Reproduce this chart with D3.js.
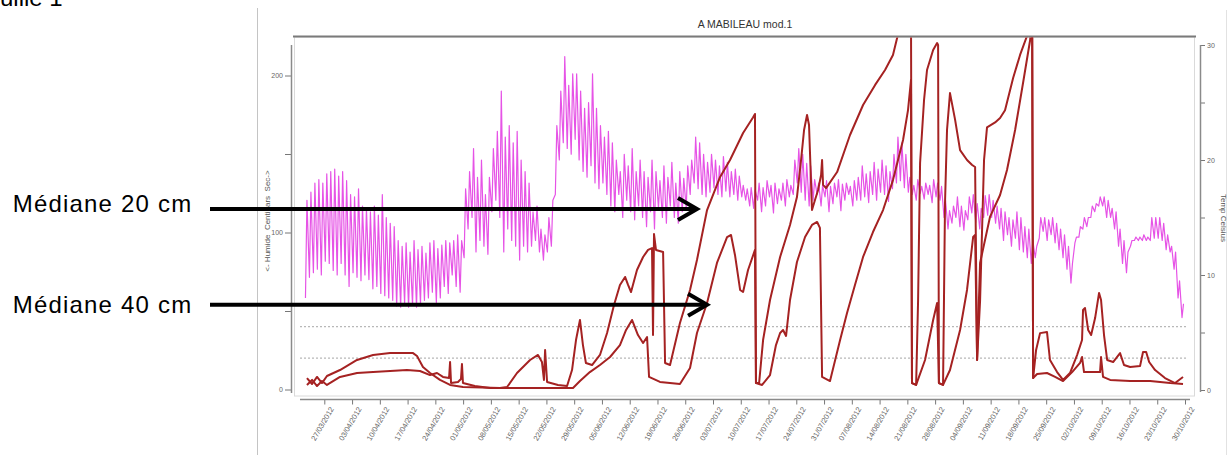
<!DOCTYPE html>
<html><head><meta charset="utf-8">
<script src="https://cdn.jsdelivr.net/npm/d3@7"></script>
<style>
body{margin:0;background:#fff}
svg{display:block}
text{font-family:"Liberation Sans",Arial,sans-serif}
</style>
</head><body>
<svg id="c" width="1232" height="455"></svg>
<script>
// ---------- DATA ----------
const chartTitle = "A MABILEAU mod.1";
const sheetLabel = "Feuille 1";
const leftAxisTitle = "<- Humide  Centibars  Sec->";
const rightAxisTitle = "Temp Celsius";
const xTickLabels = ["27/03/2012","03/04/2012","10/04/2012","17/04/2012","24/04/2012","01/05/2012","08/05/2012","15/05/2012","22/05/2012","29/05/2012","05/06/2012","12/06/2012","19/06/2012","26/06/2012","03/07/2012","10/07/2012","17/07/2012","24/07/2012","31/07/2012","07/08/2012","14/08/2012","21/08/2012","28/08/2012","04/09/2012","11/09/2012","18/09/2012","25/09/2012","02/10/2012","09/10/2012","16/10/2012","23/10/2012","30/10/2012"];
const leftTicks = [0,50,100,150,200];
const leftTickLabels = [0,100,200];
const rightTicks = [0,5,10,15,20,25,30];
const rightTickLabels = [0,10,20,30];
const refLevels = [20,40];               // dotted reference lines (centibars)
const annotationLabels = ["Médiane 20 cm","Médiane 40 cm"];
const annotationTargets = [["2012-06-28T23",115],["2012-07-01T12",54]];

// daily temperature (°C), first day = 22/03/2012
const tempStart = "2012-03-22T00";
const tMax = [
16.5,17.2,18.0,18.3,18.0,18.8,19.0,19.2,18.6,19.0,18.2,17.0,16.8,17.5,16.0,15.8,15.5,16.0,15.2,17.0,
15.0,14.5,14.2,13.0,12.5,12.8,12.0,13.0,12.2,12.5,11.9,12.8,13.0,12.3,12.6,13.0,12.8,13.0,13.5,13.0,
17.5,19.0,21.0,18.5,20.0,17.0,18.5,
21.0,22.5,26.0,22.0,23.0,21.5,22.5,20.0,19.0,18.0,
15.5,16.0,14.0,13.5,15.0,16.5,
23.0,26.0,29.0,26.5,27.5,27.5,26.0,24.5,25.0,27.5,24.5,23.0,22.0,22.5,
21.5,20.0,19.0,20.5,19.5,21.0,19.0,20.0,
19.0,18.5,20.0,19.0,18.2,19.5,18.5,19.8,18.0,19.0,18.4,19.5,
20.0,22.0,21.5,20.5,19.8,20.5,20.0,19.5,20.3,19.8,19.0,19.2,18.6,
17.8,17.5,17.6,17.4,18.0,17.6,18.2,17.8,18.0,17.5,18.0,18.3,17.8,
20.0,21.0,20.5,19.7,19.5,
18.3,18.0,17.8,18.2,17.7,18.0,18.3,17.9,18.0,17.7,18.2,18.5,
19.5,18.8,19.0,19.8,19.2,20.0,19.5,19.0,20.5,22.0,21.5,20.5,
18.5,17.8,18.3,17.7,18.0,17.8,18.3,18.0,17.7,
16.5,15.6,16.0,16.8,16.0,15.6,16.8,17.0,16.2,15.8,16.9,17.0,16.5,16.0,
15.8,15.5,15.0,14.8,15.5,15.0,14.2,14.0,13.0,12.5,
15.0,15.0,14.8,15.0,14.5,14.0,13.5,12.5,11.0,
13.3,14.2,15.0,15.0,16.0,16.2,16.8,16.8,16.5,15.8,
15.5,14.0,13.0,12.0,13.0,
13.3,13.3,13.5,13.3,15.0,15.0,15.0,14.5,
13.5,12.5,12.0,9.5,7.5];
const tMin = [
8.0,9.8,10.2,10.5,10.0,11.2,11.0,10.4,10.0,11.0,10.0,9.0,10.2,9.8,9.5,10.0,9.6,8.8,9.0,8.4,
8.2,8.0,7.8,7.3,7.2,7.5,7.2,7.4,7.2,7.5,7.8,8.0,8.5,7.6,8.0,9.0,8.4,10.0,9.0,8.5,
11.5,14.0,15.0,12.0,13.0,12.5,11.8,
15.5,16.5,15.0,12.0,14.0,13.0,12.5,11.3,12.5,12.0,
12.5,13.0,12.0,11.3,12.0,12.5,
17.0,20.0,21.5,21.0,20.5,21.8,20.0,19.0,18.5,19.5,18.0,17.5,18.0,17.0,
16.0,15.5,17.0,15.0,16.5,15.5,14.8,16.0,
15.0,14.2,15.5,14.0,15.8,15.0,14.5,16.0,15.0,14.5,15.5,15.8,
17.0,18.0,17.5,17.0,16.8,17.2,17.6,17.0,16.8,17.3,16.8,17.0,16.5,
16.8,16.5,16.0,15.8,16.5,15.5,16.0,16.8,15.4,16.2,16.5,16.0,16.8,
17.0,18.0,17.2,16.5,16.0,
16.5,17.0,16.0,16.8,15.5,16.2,16.8,15.6,16.5,17.0,16.0,16.5,
16.5,16.8,16.3,17.0,16.5,17.2,17.0,16.4,17.5,18.0,18.2,17.6,
17.2,17.0,16.5,17.1,16.6,17.0,16.3,16.8,16.5,
15.0,14.0,14.5,15.0,14.2,13.9,14.8,15.4,14.6,14.0,15.0,15.2,15.0,14.5,
14.0,13.0,13.5,12.5,13.2,12.2,12.0,11.5,11.0,11.5,
13.2,13.8,13.0,13.5,12.8,12.2,11.5,10.5,9.3,
12.8,13.3,14.0,14.2,15.0,15.5,16.0,16.0,15.0,15.0,
14.0,12.5,11.0,10.2,12.5,
13.0,13.0,13.0,13.0,13.0,13.2,13.2,13.0,
12.2,12.0,10.5,8.0,6.3];

// tensiometer 20 cm (centibars)
const s20 = [
["2012-03-22T15",7.3],["2012-03-23T22",3.5],["2012-03-25T04",8.0],["2012-03-26T10",4.1],["2012-03-27T16",8.6],["2012-03-30T23",12.4],["2012-04-04T06",18.8],["2012-04-08T07",22.0],["2012-04-12T14",23.2],["2012-04-18T09",23.2],["2012-04-19T09",21.3],["2012-04-20T21",14.3],["2012-04-22T16",10.5],["2012-04-25T04",6.1],["2012-04-27T17",2.9],["2012-04-30T23",1.6],["2012-05-10T07",1.0],["2012-05-12T02",1.6],["2012-05-14T14",10.5],["2012-05-17T21",18.8],["2012-05-19T21",22.0],["2012-05-20T21",17.5],["2012-05-21T09",6.1],["2012-05-21T16",25.2],["2012-05-22T04",4.8],["2012-05-24T22",2.9],["2012-05-27T05",2.2],["2012-05-28T11",12.4],["2012-05-29T11",31.5],["2012-05-30T11",44.3],["2012-05-31T05",28.3],["2012-05-31T23",16.9],["2012-06-02T12",15.6],["2012-06-04T12",22.0],["2012-06-06T07",36.0],["2012-06-08T01",53.8],["2012-06-09T13",66.6],["2012-06-10T20",71.7],["2012-06-11T14",66.6],["2012-06-12T08",62.1],["2012-06-13T20",76.1],["2012-06-15T09",84.4],["2012-06-16T15",88.9],["2012-06-17T15",90.1],["2012-06-17T21",34.7],["2012-06-18T03",99.0],["2012-06-18T15",88.9],["2012-06-20T10",87.6],["2012-06-20T22",16.9],["2012-06-22T04",15.6],["2012-06-24T16",42.4],["2012-06-27T05",63.4],["2012-06-28T23",82.5],["2012-07-01T12",114.3],["2012-07-04T19",135.4],["2012-07-07T07",146.2],["2012-07-10T14",163.4],["2012-07-13T02",173.2],["2012-07-13T14",175.5],["2012-07-13T20",4.1],["2012-07-14T15",4.1],["2012-07-15T15",31.5],["2012-07-17T09",57.0],["2012-07-19T22",84.4],["2012-07-22T10",104.8],["2012-07-24T04",122.6],["2012-07-25T05",146.2],["2012-07-25T23",165.3],["2012-07-26T17",174.8],["2012-07-27T05",168.5],["2012-07-27T23",114.3],["2012-07-28T17",120.7],["2012-07-29T12",127.1],["2012-07-30T06",136.6],["2012-07-30T12",146.2],["2012-07-30T18",130.3],["2012-07-31T12",128.3],["2012-08-03T07",138.5],["2012-08-06T13",162.1],["2012-08-09T20",181.2],["2012-08-12T21",194.0],["2012-08-15T09",203.5],["2012-08-17T09",213.1],["2012-08-18T10",223.9],["2012-08-19T04",235.7],["2012-08-21T22",240.0],["2012-08-22T04",4.1],["2012-08-23T05",2.9],["2012-08-23T17",57.0],["2012-08-24T05",144.3],["2012-08-25T05",184.4],["2012-08-25T23",203.5],["2012-08-27T12",216.2],["2012-08-28T12",220.7],["2012-08-28T18",219.4],["2012-08-28T23",4.1],["2012-08-30T00",2.9],["2012-08-30T12",119.4],["2012-08-31T00",165.3],["2012-08-31T18",188.8],["2012-09-02T01",171.7],["2012-09-03T07",152.5],["2012-09-05T01",146.2],["2012-09-06T08",143.0],["2012-09-07T02",141.7],["2012-09-07T14",18.8],["2012-09-08T08",56.4],["2012-09-09T08",146.2],["2012-09-10T02",167.0],["2012-09-12T03",170.1],["2012-09-13T09",172.9],["2012-09-14T15",177.9],["2012-09-16T16",198.4],["2012-09-18T10",213.1],["2012-09-20T04",225.2],["2012-09-20T23",238.5],["2012-09-21T11",245.0],["2012-09-21T17",7.3],["2012-09-22T11",25.2],["2012-09-23T11",35.9],["2012-09-25T05",36.6],["2012-09-25T23",18.8],["2012-09-27T18",11.1],["2012-09-29T06",6.1],["2012-10-01T00",10.5],["2012-10-02T19",21.9],["2012-10-04T01",31.5],["2012-10-04T07",50.6],["2012-10-04T19",51.9],["2012-10-05T14",37.9],["2012-10-06T08",34.7],["2012-10-07T08",45.5],["2012-10-08T08",61.5],["2012-10-08T20",57.0],["2012-10-09T14",34.7],["2012-10-10T09",18.8],["2012-10-11T21",17.5],["2012-10-13T15",23.2],["2012-10-14T15",15.6],["2012-10-16T04",14.3],["2012-10-18T16",14.9],["2012-10-19T10",23.9],["2012-10-20T05",23.9],["2012-10-20T23",17.5],["2012-10-22T11",12.4],["2012-10-24T23",7.3],["2012-10-27T12",4.1],["2012-10-29T12",8.0]];

// tensiometer 40 cm (centibars)
const s40 = [
["2012-03-22T15",2.9],["2012-03-23T22",6.1],["2012-03-25T04",2.2],["2012-03-26T10",5.4],["2012-03-27T16",2.9],["2012-03-30T23",8.0],["2012-04-04T06",10.5],["2012-04-08T07",11.1],["2012-04-12T14",11.8],["2012-04-16T20",12.4],["2012-04-20T03",11.8],["2012-04-22T16",9.2],["2012-04-24T10",10.5],["2012-04-25T22",8.0],["2012-04-27T11",7.3],["2012-04-27T17",17.5],["2012-04-27T23",4.1],["2012-04-29T17",4.8],["2012-04-30T11",6.7],["2012-04-30T17",16.2],["2012-04-30T23",4.1],["2012-05-03T23",2.2],["2012-05-07T19",1.0],["2012-05-28T17",1.0],["2012-05-30T11",5.4],["2012-06-01T23",11.1],["2012-06-04T12",15.6],["2012-06-07T01",20.7],["2012-06-09T13",28.3],["2012-06-11T02",37.9],["2012-06-12T14",44.3],["2012-06-14T02",34.7],["2012-06-15T09",29.6],["2012-06-16T09",33.4],["2012-06-16T21",8.0],["2012-06-19T15",4.8],["2012-06-24T16",3.5],["2012-06-27T05",13.7],["2012-06-28T23",36.0],["2012-07-01T12",55.1],["2012-07-04T00",80.6],["2012-07-06T13",97.1],["2012-07-07T13",98.4],["2012-07-08T13",85.7],["2012-07-09T20",63.4],["2012-07-10T14",62.1],["2012-07-11T20",76.1],["2012-07-13T14",88.9],["2012-07-13T20",4.1],["2012-07-15T09",2.9],["2012-07-17T09",9.2],["2012-07-18T21",28.3],["2012-07-19T22",36.0],["2012-07-20T16",37.9],["2012-07-21T10",34.1],["2012-07-22T10",57.0],["2012-07-24T04",81.2],["2012-07-26T05",97.1],["2012-07-27T23",104.8],["2012-07-29T06",106.7],["2012-07-29T23",102.9],["2012-07-30T12",8.0],["2012-08-01T12",5.4],["2012-08-04T01",31.5],["2012-08-05T19",48.7],["2012-08-07T19",66.6],["2012-08-09T20",84.4],["2012-08-12T08",100.3],["2012-08-14T21",114.3],["2012-08-17T09",133.4],["2012-08-19T22",158.9],["2012-08-21T04",178.0],["2012-08-21T22",197.1],["2012-08-22T04",4.1],["2012-08-23T05",2.9],["2012-08-25T11",18.8],["2012-08-27T12",44.3],["2012-08-28T12",55.1],["2012-08-28T23",4.1],["2012-08-30T00",2.9],["2012-08-31T18",12.4],["2012-09-03T07",37.9],["2012-09-05T01",63.4],["2012-09-06T14",97.1],["2012-09-07T02",98.4],["2012-09-07T14",18.8],["2012-09-08T08",80.6],["2012-09-10T20",109.9],["2012-09-13T09",123.9],["2012-09-15T03",139.8],["2012-09-17T04",165.3],["2012-09-19T04",195.2],["2012-09-20T23",222.6],["2012-09-21T11",241.7],["2012-09-21T17",7.3],["2012-09-22T17",9.9],["2012-09-25T05",10.5],["2012-09-27T06",8.0],["2012-09-29T06",5.4],["2012-10-01T13",11.1],["2012-10-03T13",16.9],["2012-10-04T01",20.7],["2012-10-04T13",11.1],["2012-10-08T14",11.1],["2012-10-08T20",20.7],["2012-10-09T08",8.0],["2012-10-11T03",6.1],["2012-10-16T04",5.4],["2012-10-21T05",5.4],["2012-10-26T06",4.1],["2012-10-29T12",3.5]];

// ---------- CHART ----------
const parseDay = d3.utcParse("%d/%m/%Y");
const parseT = d3.utcParse("%Y-%m-%dT%H");
const fmt = d3.utcFormat("%d/%m/%Y");
const svg = d3.select("#c");
const FONT = '"Liberation Sans",Arial,sans-serif';

const tickDates = xTickLabels.map(parseDay);
const x = d3.scaleUtc().domain([tickDates[0], tickDates[tickDates.length-1]]).range([324.3, 1185]);
const yL = d3.scaleLinear().domain([0,200]).range([389.5,75.5]);
const yR = d3.scaleLinear().domain([0,30]).range([390,45]);

// page furniture
svg.append("line").attr("x1",257.5).attr("x2",257.5).attr("y1",8).attr("y2",455).attr("stroke","#c4c4c4");
svg.append("line").attr("x1",1226.5).attr("x2",1226.5).attr("y1",10).attr("y2",455).attr("stroke","#e2e2e2");
svg.append("text").attr("x",-28).attr("y",6).attr("font-size",24).attr("fill","#000").text(sheetLabel);

// panel
svg.append("rect").attr("x",294.5).attr("y",37).attr("width",900).attr("height",359)
  .attr("fill","#fff").attr("stroke","#dadada");
svg.append("line").attr("x1",293).attr("x2",1196).attr("y1",36.5).attr("y2",36.5).attr("stroke","#7a7a7a").attr("stroke-width",2);

svg.append("defs").append("clipPath").attr("id","clip").append("rect")
  .attr("x",295).attr("y",37.5).attr("width",899).attr("height",358);

// reference dotted lines
svg.selectAll("line.ref").data(refLevels).join("line").attr("class","ref")
  .attr("x1",300).attr("x2",1186).attr("y1",d=>yL(d)).attr("y2",d=>yL(d))
  .attr("stroke","#b8b8b8").attr("stroke-width",1.3).attr("stroke-dasharray","2,2");

const plot = svg.append("g").attr("clip-path","url(#clip)");

// temperature zigzag (daily min at 06h, max at 15h)
const t0 = parseT(tempStart);
const tempPts = [];
tMax.forEach((mx,i)=>{
  const day = d3.utcDay.offset(t0, i);
  tempPts.push({t:d3.utcHour.offset(day,6), v:tMin[i]});
  tempPts.push({t:d3.utcHour.offset(day,15), v:mx});
});
plot.append("path").datum(tempPts)
  .attr("fill","none").attr("stroke","#e653e6").attr("stroke-width",1.2).attr("stroke-linejoin","round")
  .attr("d", d3.line().x(d=>x(d.t)).y(d=>yR(d.v)));

// tensiometer lines
const lineL = d3.line().x(d=>x(parseT(d[0]))).y(d=>yL(d[1]));
[s40, s20].forEach(s=>{
  plot.append("path").datum(s).attr("fill","none").attr("stroke","#a52222")
    .attr("stroke-width",2).attr("stroke-linejoin","round").attr("d", lineL);
});

// axes
function styleAxis(g){
  g.selectAll(".tick line").attr("stroke","#777");
  g.selectAll(".tick text").attr("fill","#666").attr("font-family",FONT).attr("font-size",7);
  g.select(".domain").remove();
}
const gL = svg.append("g").attr("transform","translate(291,0)")
  .call(d3.axisLeft(yL).tickValues(leftTicks).tickSize(6).tickPadding(2)
    .tickFormat(v=>leftTickLabels.includes(v)?v:""));
styleAxis(gL);
gL.append("line").attr("x1",0.5).attr("x2",0.5).attr("y1",45).attr("y2",393).attr("stroke","#8a8a8a").attr("stroke-width",1.5);

const gR = svg.append("g").attr("transform","translate(1200,0)")
  .call(d3.axisRight(yR).tickValues(rightTicks).tickSize(5).tickPadding(2)
    .tickFormat(v=>rightTickLabels.includes(v)?v:""));
styleAxis(gR);
gR.append("line").attr("x1",0.5).attr("x2",0.5).attr("y1",45).attr("y2",392).attr("stroke","#8a8a8a").attr("stroke-width",1.5);

const gX = svg.append("g").attr("transform","translate(0,399.5)")
  .call(d3.axisBottom(x).tickValues(tickDates).tickSize(5).tickFormat(fmt));
styleAxis(gX);
gX.append("line").attr("x1",300).attr("x2",1190).attr("y1",0).attr("y2",0).attr("stroke","#8a8a8a").attr("stroke-width",1.5);
gX.selectAll(".tick text").attr("x",0).attr("y",0).attr("dy","0.35em")
  .attr("text-anchor","end").attr("font-size",7.5)
  .attr("transform","translate(7,8) rotate(-60)");

// titles
svg.append("text").attr("x",745).attr("y",28).attr("text-anchor","middle")
  .attr("font-size",10.5).attr("fill","#333").text(chartTitle);
svg.append("text").attr("transform","translate(269.5,221) rotate(-90)").attr("text-anchor","middle")
  .attr("font-size",8).attr("fill","#555").attr("xml:space","preserve").style("white-space","pre").text(leftAxisTitle);
svg.append("text").attr("transform","translate(1220.5,218) rotate(90)").attr("text-anchor","middle")
  .attr("font-size",8).attr("fill","#555").text(rightAxisTitle);

// annotations
const textY = [211.7, 313.3];
annotationLabels.forEach((lab,i)=>{
  const tip = [x(parseT(annotationTargets[i][0])), yL(annotationTargets[i][1])];
  svg.append("text").attr("x",12.7).attr("y",textY[i]).attr("font-size",24)
    .attr("letter-spacing",1.2).attr("fill","#000").text(lab);
  svg.append("line").attr("x1",210).attr("x2",tip[0]-1).attr("y1",tip[1]).attr("y2",tip[1])
    .attr("stroke","#000").attr("stroke-width",4);
  svg.append("path").attr("d",`M${tip[0]-19},${tip[1]-11}L${tip[0]},${tip[1]}L${tip[0]-19},${tip[1]+11}`)
    .attr("fill","none").attr("stroke","#000").attr("stroke-width",4).attr("stroke-linejoin","miter");
});
</script>
</body></html>
